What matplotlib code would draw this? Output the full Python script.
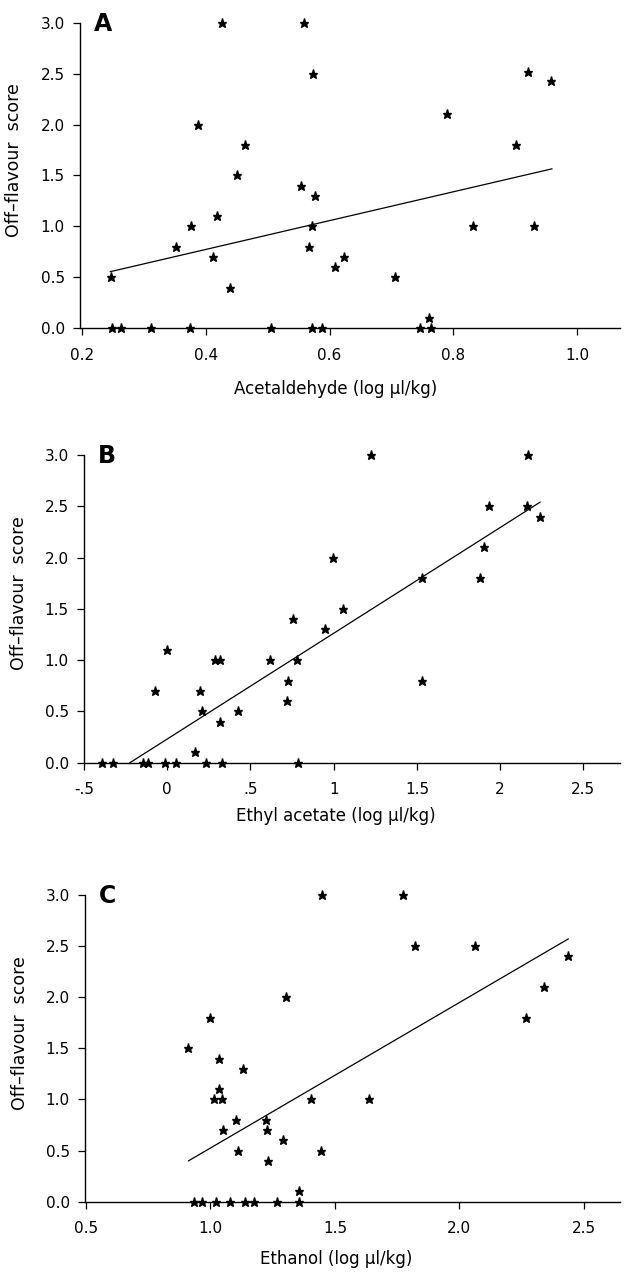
import matplotlib
matplotlib.use("Agg")
import matplotlib.pyplot as plt

# ---------------- data ----------------
# panel A : acetaldehyde
a_x = [0.426, 0.558, 0.573, 0.387, 0.464, 0.451, 0.554, 0.577, 0.419, 0.377, 0.572, 0.352, 0.566,
       0.412, 0.624, 0.609, 0.247, 0.439, 0.921, 0.957, 0.789, 0.901, 0.831, 0.930, 0.705, 0.761,
       0.249, 0.263, 0.311, 0.374, 0.505, 0.572, 0.587, 0.746, 0.763]
a_y = [3.0, 3.0, 2.5, 2.0, 1.8, 1.5, 1.4, 1.3, 1.1, 1.0, 1.0, 0.8, 0.8,
       0.7, 0.7, 0.6, 0.5, 0.4, 2.52, 2.43, 2.1, 1.8, 1.0, 1.0, 0.5, 0.1,
       0.0, 0.0, 0.0, 0.0, 0.0, 0.0, 0.0, 0.0, 0.0]
a_fit_x = [0.246, 0.959]
a_fit_y = [0.556, 1.565]

# panel B : ethyl acetate
b_x = [0.998, 1.058, 0.756, 0.950, 0.0, 0.29, 0.318, 0.618, 0.78, 0.728, -0.074, 0.196, 0.722,
       0.21, 0.424, 0.316, 0.168, 1.226, 2.168, 1.936, 2.164, 2.238, 1.902, 1.532, 1.88, 1.532,
       -0.39, -0.328, -0.144, -0.114, -0.012, 0.05, 0.23, 0.33, 0.786]
b_y = [2.0, 1.5, 1.4, 1.3, 1.1, 1.0, 1.0, 1.0, 1.0, 0.8, 0.7, 0.7, 0.6,
       0.5, 0.5, 0.4, 0.1, 3.0, 3.0, 2.5, 2.5, 2.4, 2.1, 1.8, 1.8, 0.8,
       0.0, 0.0, 0.0, 0.0, 0.0, 0.0, 0.0, 0.0, 0.0]
b_fit_x = [-0.224, 2.24]
b_fit_y = [0.0, 2.54]

# panel C : ethanol
c_x = [1.45, 1.302, 1.0, 0.91, 1.035, 1.13, 1.034, 1.013, 1.046, 1.405, 1.102, 1.224, 1.226,
       1.049, 1.293, 1.11, 1.445, 1.231, 1.355, 1.772, 1.821, 2.062, 2.436, 2.338, 2.268, 1.637,
       0.935, 0.965, 1.022, 1.078, 1.14, 1.175, 1.268, 1.354]
c_y = [3.0, 2.0, 1.8, 1.5, 1.4, 1.3, 1.1, 1.0, 1.0, 1.0, 0.8, 0.8, 0.7,
       0.7, 0.6, 0.5, 0.5, 0.4, 0.1, 3.0, 2.5, 2.5, 2.4, 2.1, 1.8, 1.0,
       0.0, 0.0, 0.0, 0.0, 0.0, 0.0, 0.0, 0.0]
c_fit_x = [0.912, 2.437]
c_fit_y = [0.40, 2.57]

y_ticks  = [0.0, 0.5, 1.0, 1.5, 2.0, 2.5, 3.0]
y_labels = ["0.0", "0.5", "1.0", "1.5", "2.0", "2.5", "3.0"]

a_ticks  = [0.2, 0.4, 0.6, 0.8, 1.0]
a_labels = ["0.2", "0.4", "0.6", "0.8", "1.0"]
b_ticks  = [-0.5, 0.0, 0.5, 1.0, 1.5, 2.0, 2.5]
b_labels = ["-.5", "0", ".5", "1", "1.5", "2", "2.5"]
c_ticks  = [0.5, 1.0, 1.5, 2.0, 2.5]
c_labels = ["0.5", "1.0", "1.5", "2.0", "2.5"]

panels = [
    # letter, x, y, fit x, fit y, ticks, labels, xlim, xlabel, axes rect, xlabel pos
    ("A", a_x, a_y, a_fit_x, a_fit_y, a_ticks, a_labels, (0.197, 1.069),
     "Acetaldehyde (log \u00b5l/kg)", [0.1282, 0.7431, 0.8654, 0.2392], (0.474, -0.168)),
    ("B", b_x, b_y, b_fit_x, b_fit_y, b_ticks, b_labels, (-0.5, 2.72),
     "Ethyl acetate (log \u00b5l/kg)", [0.1346, 0.4032, 0.8590, 0.2408], (0.470, -0.145)),
    ("C", c_x, c_y, c_fit_x, c_fit_y, c_ticks, c_labels, (0.496, 2.645),
     "Ethanol (log \u00b5l/kg)", [0.1362, 0.0597, 0.8574, 0.2400], (0.469, -0.158)),
]

#================== plot ==================
fig = plt.figure(figsize=(6.24, 12.78), dpi=100)

for letter, xs, ys, fx, fy, ticks, labels, xlim, xlabel, rect, xl_pos in panels:
    ax = fig.add_axes(rect)
    ax.plot(xs, ys, linestyle="none", marker="*", markersize=6.5, color="black", clip_on=False)
    ax.plot(fx, fy, color="black", linewidth=0.9)

    ax.set_xlim(*xlim)
    ax.set_ylim(0, 3.0)
    ax.set_xticks(ticks)
    ax.set_xticklabels(labels)
    ax.set_yticks(y_ticks)
    ax.set_yticklabels(y_labels)
    ax.tick_params(direction="out", length=5, width=0.9, labelsize=11, colors="black")
    ax.tick_params(axis="x", pad=9)
    ax.tick_params(axis="y", pad=6)

    for side in ["top", "right"]:
        ax.spines[side].set_visible(False)
    for side in ["left", "bottom"]:
        ax.spines[side].set_linewidth(1.0)

    ax.set_ylabel("Off\u2013flavour  score", fontsize=12.5)
    ax.yaxis.set_label_coords(-0.105, 0.55)
    ax.set_xlabel(xlabel, fontsize=12)
    ax.xaxis.set_label_coords(*xl_pos)

    ax.text(0.026, 1.035, letter, transform=ax.transAxes, fontsize=17, fontweight="bold",
            ha="left", va="top")

plt.savefig("out.png", dpi=100)
plt.close(fig)
